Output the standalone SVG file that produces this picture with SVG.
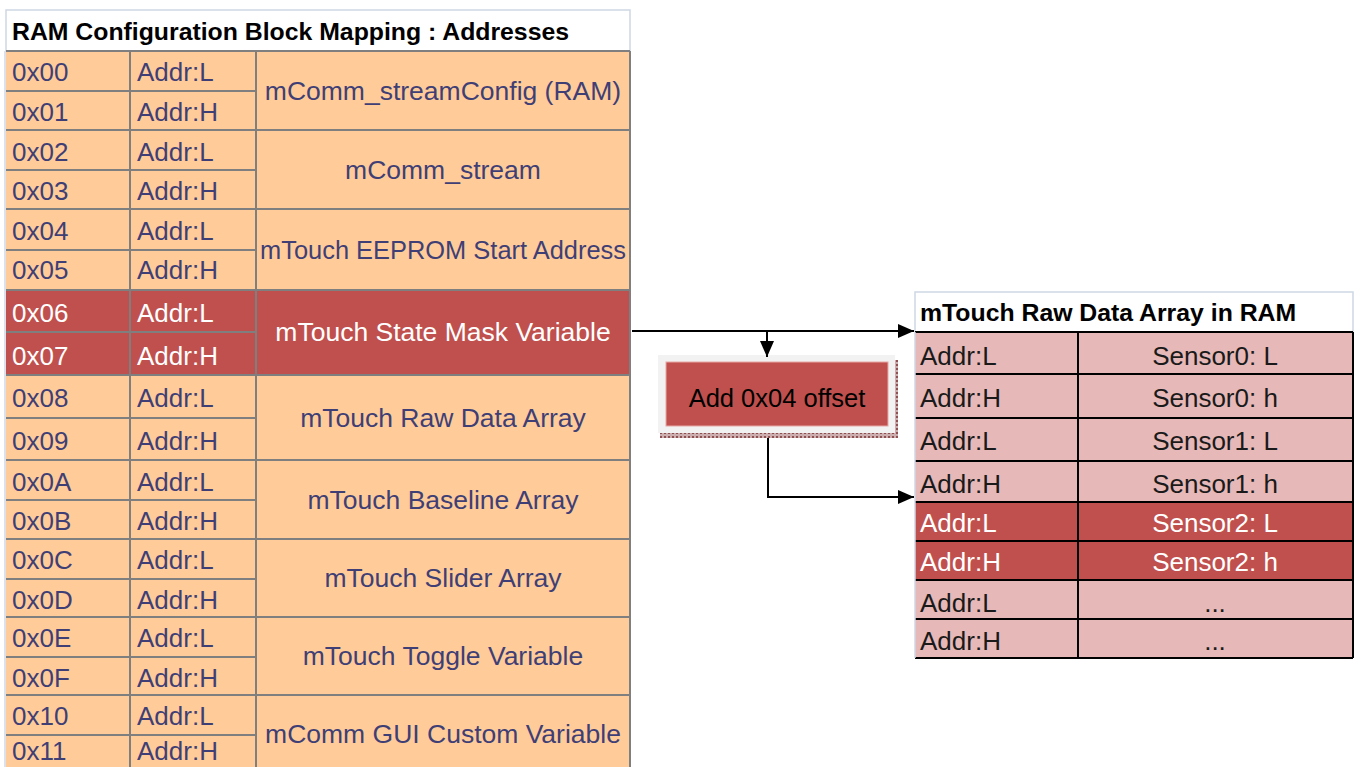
<svg xmlns="http://www.w3.org/2000/svg" width="1361" height="767" viewBox="0 0 1361 767">
<defs>
<style>
.t{font-family:"Liberation Sans",Arial,sans-serif;font-size:26px;dominant-baseline:central}
.m{font-size:26.5px}
.h{font-family:"Liberation Sans",Arial,sans-serif;font-size:24.8px;font-weight:bold;fill:#000;dominant-baseline:central}
.in{fill:#3F3F76}
.wh{fill:#FFFFFF}
.dk{fill:#1A1A1A}
.mid{text-anchor:middle}
.or{fill:#FFCC99}
.rd{fill:#C0504D}
.pk{fill:#E6B8B7}
.gl{stroke:#7F7F7F;stroke-width:2;fill:none}
.bl{stroke:#000;stroke-width:2;fill:none}
.grid{stroke:#D0D7E5;stroke-width:1.5;fill:none}
.con{stroke:#000;stroke-width:2;fill:none}
</style>
<marker id="ah" viewBox="0 0 16 14" refX="16" refY="7" markerWidth="16" markerHeight="14" markerUnits="userSpaceOnUse" orient="auto">
<path d="M0,0 L16,7 L0,14 z" fill="#000"/>
</marker>
<pattern id="sh" width="4" height="4" patternUnits="userSpaceOnUse">
<rect width="4" height="4" fill="#CDAEAE"/>
<rect width="2" height="2" fill="#8E5050"/>
</pattern>
</defs>
<rect width="1361" height="767" fill="#FFFFFF"/>

<!-- Left table -->
<g id="left-header">
<rect x="6" y="10" width="624" height="41" fill="#FFFFFF"/>
<path class="grid" d="M6,51 V10 H630 V51"/>
<text class="h" x="12" y="31">RAM Configuration Block Mapping : Addresses</text>
</g>

<g id="g00">
<rect class="or" x="6" y="51" width="624" height="79"/>
<path class="gl" d="M6,51 H630 M6,91 H256 M130,51 V130 M256,51 V130 M630,51 V130"/>
<text class="t in" x="12" y="72">0x00</text><text class="t in" x="137" y="72">Addr:L</text>
<text class="t in" x="12" y="112">0x01</text><text class="t in" x="137" y="112">Addr:H</text>
<text class="t m in mid" x="443" y="91">mComm_streamConfig (RAM)</text>
</g>

<g id="g02">
<rect class="or" x="6" y="130" width="624" height="79"/>
<path class="gl" d="M6,130 H630 M6,170 H256 M130,130 V209 M256,130 V209 M630,130 V209"/>
<text class="t in" x="12" y="152">0x02</text><text class="t in" x="137" y="152">Addr:L</text>
<text class="t in" x="12" y="191">0x03</text><text class="t in" x="137" y="191">Addr:H</text>
<text class="t m in mid" x="443" y="170">mComm_stream</text>
</g>

<g id="g04">
<rect class="or" x="6" y="209" width="624" height="81"/>
<path class="gl" d="M6,209 H630 M6,250 H256 M130,209 V290 M256,209 V290 M630,209 V290"/>
<text class="t in" x="12" y="231">0x04</text><text class="t in" x="137" y="231">Addr:L</text>
<text class="t in" x="12" y="270">0x05</text><text class="t in" x="137" y="270">Addr:H</text>
<text class="t in mid" x="443" y="250" textLength="366" lengthAdjust="spacingAndGlyphs">mTouch EEPROM Start Address</text>
</g>

<g id="g06">
<rect class="rd" x="6" y="290" width="624" height="85"/>
<path class="gl" d="M6,290 H630 M6,332 H256 M130,290 V375 M256,290 V375 M630,290 V375"/>
<text class="t wh" x="12" y="313">0x06</text><text class="t wh" x="137" y="313">Addr:L</text>
<text class="t wh" x="12" y="356">0x07</text><text class="t wh" x="137" y="356">Addr:H</text>
<text class="t m wh mid" x="443" y="332">mTouch State Mask Variable</text>
</g>

<g id="g08">
<rect class="or" x="6" y="375" width="624" height="85"/>
<path class="gl" d="M6,375 H630 M6,418 H256 M130,375 V460 M256,375 V460 M630,375 V460"/>
<text class="t in" x="12" y="398">0x08</text><text class="t in" x="137" y="398">Addr:L</text>
<text class="t in" x="12" y="441">0x09</text><text class="t in" x="137" y="441">Addr:H</text>
<text class="t m in mid" x="443" y="418">mTouch Raw Data Array</text>
</g>

<g id="g0A">
<rect class="or" x="6" y="460" width="624" height="79"/>
<path class="gl" d="M6,460 H630 M6,500 H256 M130,460 V539 M256,460 V539 M630,460 V539"/>
<text class="t in" x="12" y="482">0x0A</text><text class="t in" x="137" y="482">Addr:L</text>
<text class="t in" x="12" y="521">0x0B</text><text class="t in" x="137" y="521">Addr:H</text>
<text class="t m in mid" x="443" y="500">mTouch Baseline Array</text>
</g>

<g id="g0C">
<rect class="or" x="6" y="539" width="624" height="78"/>
<path class="gl" d="M6,539 H630 M6,579 H256 M130,539 V617 M256,539 V617 M630,539 V617"/>
<text class="t in" x="12" y="560">0x0C</text><text class="t in" x="137" y="560">Addr:L</text>
<text class="t in" x="12" y="600">0x0D</text><text class="t in" x="137" y="600">Addr:H</text>
<text class="t m in mid" x="443" y="578">mTouch Slider Array</text>
</g>

<g id="g0E">
<rect class="or" x="6" y="617" width="624" height="78"/>
<path class="gl" d="M6,617 H630 M6,657 H256 M130,617 V695 M256,617 V695 M630,617 V695"/>
<text class="t in" x="12" y="638">0x0E</text><text class="t in" x="137" y="638">Addr:L</text>
<text class="t in" x="12" y="678">0x0F</text><text class="t in" x="137" y="678">Addr:H</text>
<text class="t m in mid" x="443" y="656">mTouch Toggle Variable</text>
</g>

<g id="g10">
<rect class="or" x="6" y="695" width="624" height="80"/>
<path class="gl" d="M6,695 H630 M6,735 H256 M130,695 V775 M256,695 V775 M630,695 V775"/>
<text class="t in" x="12" y="716">0x10</text><text class="t in" x="137" y="716">Addr:L</text>
<text class="t in" x="12" y="751">0x11</text><text class="t in" x="137" y="751">Addr:H</text>
<text class="t m in mid" x="443" y="734">mComm GUI Custom Variable</text>
</g>
<path class="grid" d="M5,51 V767"/>

<!-- Offset box -->
<g id="offset-box">
<rect x="660" y="360" width="238" height="78" fill="url(#sh)"/>
<rect x="658" y="355" width="237" height="78" fill="#F2F2F2"/>
<rect x="666" y="362" width="222" height="64" fill="#C0504D" stroke="#E8A8A6" stroke-width="1"/>
<text class="t mid" x="777" y="398" style="font-size:25.5px;fill:#000">Add 0x04 offset</text>
</g>

<!-- Right table -->
<g id="right-header">
<rect x="915" y="292" width="438" height="40" fill="#FFFFFF"/>
<path class="grid" d="M915,332 V292 H1353 V332"/>
<text class="h" x="920" y="312">mTouch Raw Data Array in RAM</text>
</g>
<g id="right-rows">
<rect class="pk" x="915" y="332" width="438" height="170"/>
<rect class="rd" x="915" y="502" width="438" height="78"/>
<rect class="pk" x="915" y="580" width="438" height="78"/>
<path class="bl" d="M915,332 H1353 M915,374 H1353 M915,418 H1353 M915,461 H1353 M915,502 H1353 M915,541 H1353 M915,580 H1353 M915,619 H1353 M915,658 H1353 M1078,332 V658 M1353,332 V658"/>
<path class="grid" d="M915,332 V658"/>
<text class="t dk" x="920" y="356">Addr:L</text><text class="t dk mid" x="1215" y="356">Sensor0: L</text>
<text class="t dk" x="920" y="398">Addr:H</text><text class="t dk mid" x="1215" y="398">Sensor0: h</text>
<text class="t dk" x="920" y="441">Addr:L</text><text class="t dk mid" x="1215" y="441">Sensor1: L</text>
<text class="t dk" x="920" y="484">Addr:H</text><text class="t dk mid" x="1215" y="484">Sensor1: h</text>
<text class="t wh" x="920" y="523">Addr:L</text><text class="t wh mid" x="1215" y="523">Sensor2: L</text>
<text class="t wh" x="920" y="562">Addr:H</text><text class="t wh mid" x="1215" y="562">Sensor2: h</text>
<text class="t dk" x="920" y="603">Addr:L</text><text class="t dk mid" x="1215" y="603">...</text>
<text class="t dk" x="920" y="641">Addr:H</text><text class="t dk mid" x="1215" y="641">...</text>
</g>

<!-- Connectors -->
<g id="connectors">
<path class="con" d="M632,331 H914" marker-end="url(#ah)"/>
<path class="con" d="M767,331 V357" marker-end="url(#ah)"/>
<path class="con" d="M768,438 V497 H914" marker-end="url(#ah)"/>
</g>
</svg>
